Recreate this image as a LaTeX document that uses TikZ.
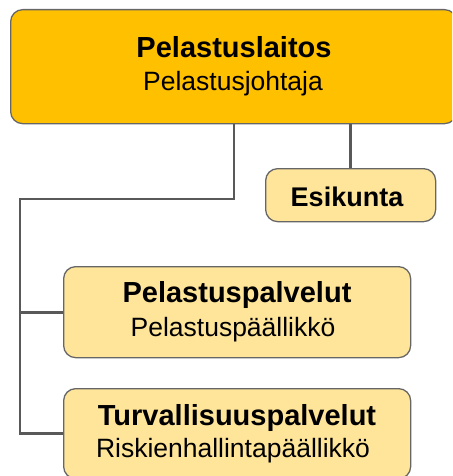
\documentclass[tikz,border=0pt]{standalone}
\usepackage{fontspec}
\setmainfont{Liberation Sans}
\begin{document}
\begin{tikzpicture}[x=1pt,y=-1pt,
  box/.style={draw=black!60, line width=1.3pt, rounded corners=12pt, align=center, inner sep=0pt},
  topbox/.style={box, fill=topgold},
  subbox/.style={box, fill=subyellow},
  conn/.style={draw=black!65, line width=2.8pt},
  hd/.style={anchor=base, inner sep=0pt, font=\fontsize{29}{34}\selectfont\bfseries},
  sub/.style={anchor=base, inner sep=0pt, font=\fontsize{26.5}{32}\selectfont},
]
\definecolor{topgold}{HTML}{FFC000}
\definecolor{subyellow}{HTML}{FFE599}
\clip (0,0) rectangle (452,476);
\useasboundingbox (0,0) rectangle (452,476);
% boxes
\node[topbox, minimum width=446pt, minimum height=114pt, anchor=north west] (top) at (10,9) {};
\node[subbox, minimum width=170pt, minimum height=53pt, anchor=north west] (esi) at (265,168) {};
\node[subbox, minimum width=347pt, minimum height=91pt, anchor=north west] (pel) at (63,266) {};
\node[subbox, minimum width=347pt, minimum height=90pt, anchor=north west] (tur) at (63,388) {};
% texts
\node[hd] (t1) at (234,58) {Pelastuslaitos};
\node[sub] (t2) at (233,91) {Pelastusjohtaja};
\node[hd, font=\fontsize{27}{32}\selectfont\bfseries] (t3) at (347,206) {Esikunta};
\node[hd] (t4) at (237,302.5) {Pelastuspalvelut};
\node[sub] (t5) at (233,336) {Pelastuspäällikkö};
\node[hd] (t6) at (237,425.5) {Turvallisuuspalvelut};
\node[sub] (t7) at (233,457) {Riskienhallintapäällikkö};
% connectors
\coordinate (j1) at (234,199);
\coordinate (j2) at (20,199);
\draw[conn] (top.south -| j1) -- (j1) -- (j2) -- (j2 |- tur.west) -- (tur.west);
\draw[conn] (j2 |- pel.west) -- (pel.west);
\draw[conn] (top.south -| esi.north) -- (esi.north);
\end{tikzpicture}
\end{document}
